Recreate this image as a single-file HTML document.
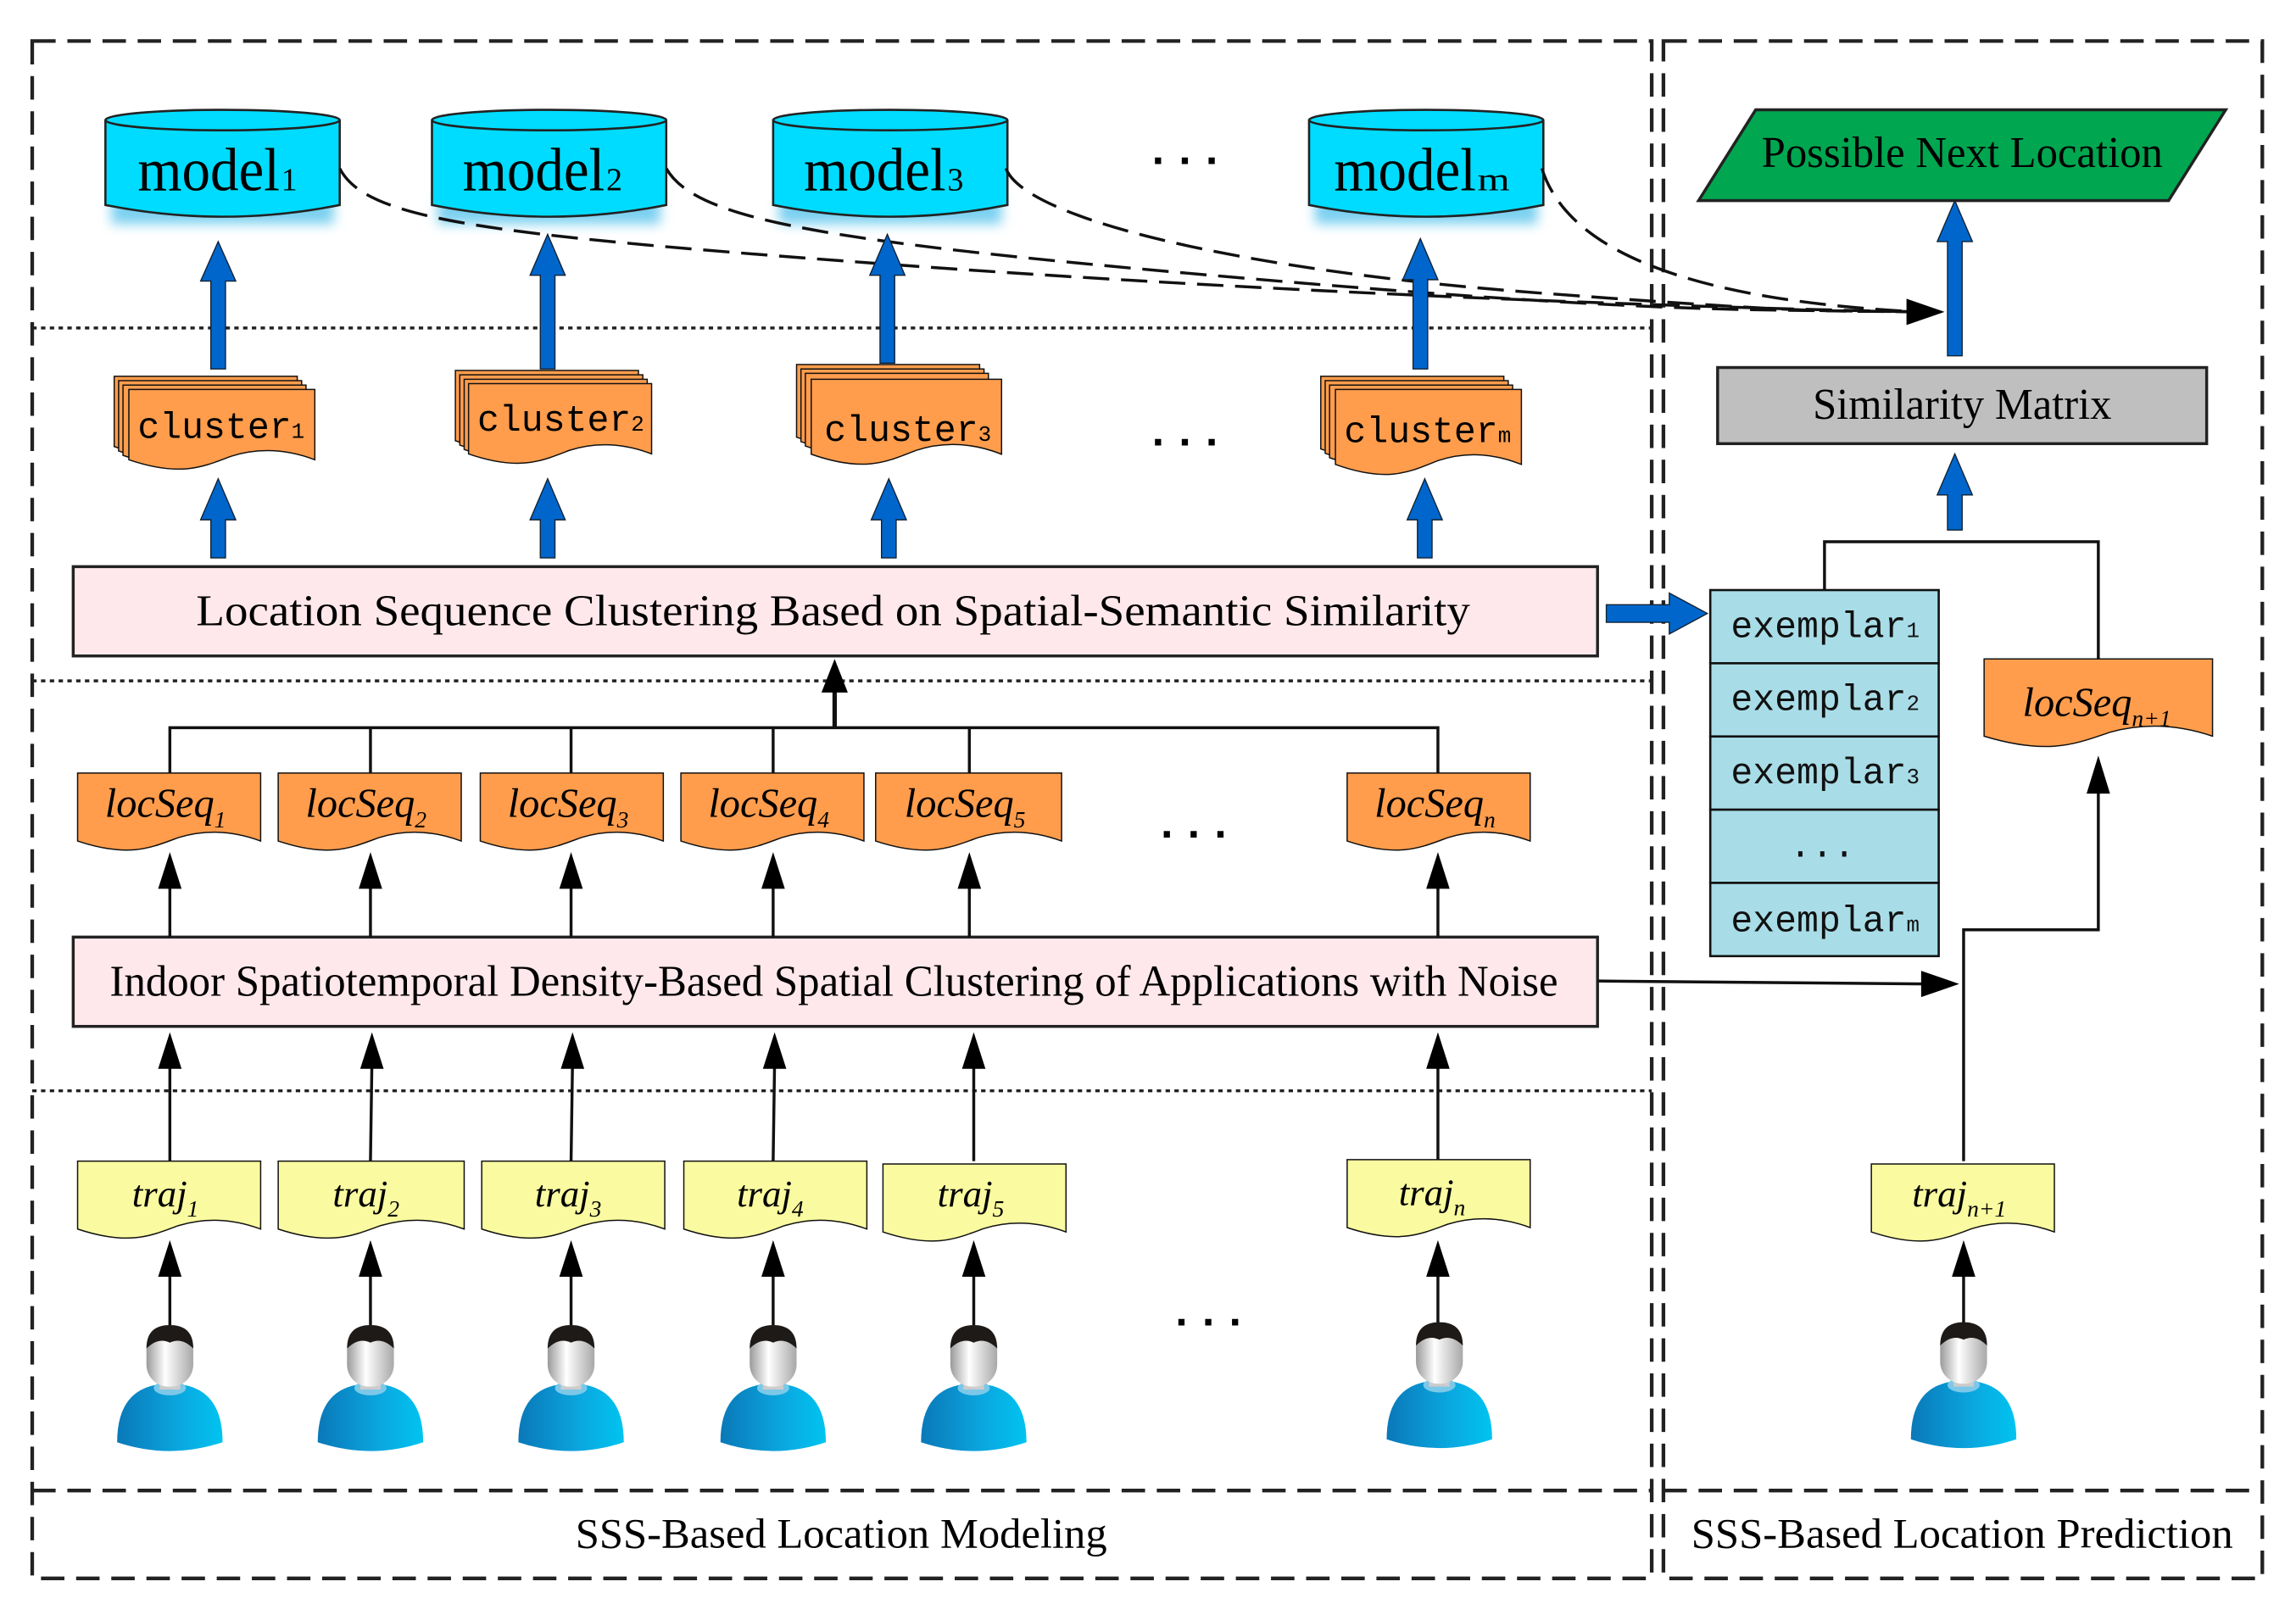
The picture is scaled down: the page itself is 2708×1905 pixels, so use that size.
<!DOCTYPE html>
<html><head><meta charset="utf-8"><style>
html,body{margin:0;padding:0;background:#fff;}
svg{display:block;}
.ser{font-family:"Liberation Serif",serif;}
.mono{font-family:"Liberation Mono",monospace;}
</style></head><body>
<svg width="2708" height="1905" viewBox="0 0 1568 1103" preserveAspectRatio="none" xmlns="http://www.w3.org/2000/svg">
<defs>
<symbol id="doc" viewBox="0 0 100 100" preserveAspectRatio="none" overflow="visible">
<path d="M0,0 H100 V80 C85,68 70,66 55,76 C40,88 28,100 0,80 Z" vector-effect="non-scaling-stroke"/>
</symbol>
<linearGradient id="face" x1="0" x2="1"><stop offset="0" stop-color="#9a9a9a"/><stop offset="0.4" stop-color="#fff"/><stop offset="1" stop-color="#a8a8a8"/></linearGradient>
<linearGradient id="body" x1="0" x2="1"><stop offset="0" stop-color="#0a78b8"/><stop offset="0.6" stop-color="#0aa8e0"/><stop offset="1" stop-color="#00c4f0"/></linearGradient>
<symbol id="person" viewBox="-40 0 80 90" overflow="visible">
<path d="M-36,80 Q-36,40 0,40 Q36,40 36,80 Q0,92 -36,80 Z" fill="url(#body)"/>
<ellipse cx="0" cy="43" rx="11" ry="5" fill="#7cc8e8"/>
<rect x="-7" y="30" width="14" height="14" fill="#ccc"/>
<rect x="-16" y="2" width="32" height="40" rx="15" fill="url(#face)"/>
<path d="M-16,16 Q-16,0 0,0 Q16,0 16,16 Q8,8 0,12 Q-8,8 -16,16 Z" fill="#1e1a18"/>
</symbol>
<filter id="glow" x="-20%" y="-20%" width="140%" height="160%"><feGaussianBlur stdDeviation="4"/></filter>
</defs>

<g fill="none" stroke="#222" stroke-width="2.5" stroke-dasharray="16 8">
<rect x="22" y="28" width="1106" height="1050"/>
<line x1="22" y1="1018" x2="1128" y2="1018"/>
<rect x="1136" y="28" width="409" height="1050"/>
<line x1="1136" y1="1018" x2="1545" y2="1018"/>
</g>
<g stroke="#222" stroke-width="2" stroke-dasharray="3 3">
<line x1="22" y1="224" x2="1128" y2="224"/>
<line x1="22" y1="465" x2="1128" y2="465"/>
<line x1="22" y1="745" x2="1128" y2="745"/>
</g>

<g>
<g transform="translate(72,0)"><rect x="4" y="135" width="152" height="18" fill="#7ad0f0" filter="url(#glow)"/><path d="M0,82 V140 Q80,156 160,140 V82" fill="#00dcff" stroke="#222" stroke-width="1.5"/><ellipse cx="80" cy="82" rx="80" ry="7" fill="#00dcff" stroke="#222" stroke-width="1.5"/></g>
<g transform="translate(295,0)"><rect x="4" y="135" width="152" height="18" fill="#7ad0f0" filter="url(#glow)"/><path d="M0,82 V140 Q80,156 160,140 V82" fill="#00dcff" stroke="#222" stroke-width="1.5"/><ellipse cx="80" cy="82" rx="80" ry="7" fill="#00dcff" stroke="#222" stroke-width="1.5"/></g>
<g transform="translate(528,0)"><rect x="4" y="135" width="152" height="18" fill="#7ad0f0" filter="url(#glow)"/><path d="M0,82 V140 Q80,156 160,140 V82" fill="#00dcff" stroke="#222" stroke-width="1.5"/><ellipse cx="80" cy="82" rx="80" ry="7" fill="#00dcff" stroke="#222" stroke-width="1.5"/></g>
<g transform="translate(894,0)"><rect x="4" y="135" width="152" height="18" fill="#7ad0f0" filter="url(#glow)"/><path d="M0,82 V140 Q80,156 160,140 V82" fill="#00dcff" stroke="#222" stroke-width="1.5"/><ellipse cx="80" cy="82" rx="80" ry="7" fill="#00dcff" stroke="#222" stroke-width="1.5"/></g>
</g>
<g class="ser" font-size="42" fill="#000">
<text x="94" y="130" textLength="97" lengthAdjust="spacingAndGlyphs">model</text><text x="192" y="130" font-size="22">1</text>
<text x="316" y="130" textLength="97" lengthAdjust="spacingAndGlyphs">model</text><text x="414" y="130" font-size="22">2</text>
<text x="549" y="130" textLength="97" lengthAdjust="spacingAndGlyphs">model</text><text x="647" y="130" font-size="22">3</text>
<text x="911" y="130" textLength="97" lengthAdjust="spacingAndGlyphs">model</text><text x="1009" y="130" font-size="22" textLength="22" lengthAdjust="spacingAndGlyphs">m</text>
</g>
<g font-family="Liberation Sans,sans-serif" font-size="30" font-weight="bold" text-anchor="middle">
<text x="810" y="120">· · ·</text><text x="810" y="312">· · ·</text><text x="816" y="580">· · ·</text><text x="826" y="913">· · ·</text>
</g>

<g fill="none" stroke="#111" stroke-width="2" stroke-dasharray="18 8">
<path d="M232,115 C250,150 330,160 600,180 S1150,210 1310,213"/>
<path d="M455,115 C475,150 560,165 850,190 S1200,211 1310,213"/>
<path d="M687,115 C700,150 850,185 1050,200 S1250,212 1310,213"/>
<path d="M1053,115 C1070,170 1150,205 1310,213"/>
</g>
<path d="M1302,204 L1328,213 L1302,222 Z" fill="#000"/>

<g fill="#0066cc" stroke="#123" stroke-width="0.8">
<path d="M144,252 V192 H137 L149,165 L161,192 H154 V252 Z"/>
<path d="M369,252 V188 H362 L374,160 L386,188 H379 V252 Z"/>
<path d="M601,248 V188 H594 L606,160 L618,188 H611 V248 Z"/>
<path d="M965,252 V191 H958 L970,163 L982,191 H975 V252 Z"/>
<path d="M144,381 V355 H137 L149,327 L161,355 H154 V381 Z"/>
<path d="M369,381 V355 H362 L374,327 L386,355 H379 V381 Z"/>
<path d="M602,381 V355 H595 L607,327 L619,355 H612 V381 Z"/>
<path d="M968,381 V355 H961 L973,327 L985,355 H978 V381 Z"/>
<path d="M1330,243 V165 H1323 L1335,137 L1347,165 H1340 V243 Z"/>
<path d="M1330,362 V338 H1323 L1335,310 L1347,338 H1340 V362 Z"/>
<path d="M1097,413 H1140 V405 L1166,419 L1140,433 V425 H1097 Z"/>
</g>

<g fill="#ff9d4d" stroke="#111" stroke-width="1.5">
<use href="#doc" x="78" y="257" width="125" height="60"/><use href="#doc" x="81" y="260" width="125" height="60"/><use href="#doc" x="84" y="263" width="125" height="60"/><use href="#doc" x="88" y="266" width="127" height="60"/>
<use href="#doc" x="311" y="253" width="125" height="60"/><use href="#doc" x="314" y="256" width="125" height="60"/><use href="#doc" x="317" y="259" width="125" height="60"/><use href="#doc" x="320" y="262" width="125" height="60"/>
<use href="#doc" x="544" y="249" width="125" height="62"/><use href="#doc" x="547" y="252" width="125" height="62"/><use href="#doc" x="550" y="255" width="125" height="62"/><use href="#doc" x="554" y="259" width="130" height="64"/>
<use href="#doc" x="902" y="257" width="125" height="62"/><use href="#doc" x="905" y="260" width="125" height="62"/><use href="#doc" x="908" y="263" width="125" height="62"/><use href="#doc" x="912" y="266" width="127" height="64"/>
</g>
<g class="mono" font-size="25" fill="#000">
<text x="94" y="299">cluster<tspan font-size="15">1</tspan></text>
<text x="326" y="294">cluster<tspan font-size="15">2</tspan></text>
<text x="563" y="301">cluster<tspan font-size="15">3</tspan></text>
<text x="918" y="302">cluster<tspan font-size="15">m</tspan></text>
</g>

<rect x="50" y="387" width="1041" height="61" fill="#ffe8ec" stroke="#222" stroke-width="2"/>
<text class="ser" x="134" y="427" font-size="30" textLength="870" lengthAdjust="spacingAndGlyphs">Location Sequence Clustering Based on Spatial-Semantic Similarity</text>
<rect x="50" y="640" width="1041" height="61" fill="#ffe8ec" stroke="#222" stroke-width="2"/>
<text class="ser" x="75" y="680" font-size="30" textLength="989" lengthAdjust="spacingAndGlyphs">Indoor Spatiotemporal Density-Based Spatial Clustering of Applications with Noise</text>

<g fill="none" stroke="#111" stroke-width="2">
<path d="M116,528 V497 H982 V528 M253,497 V528 M390,497 V528 M528,497 V528 M662,497 V528"/>
<line x1="570" y1="497" x2="570" y2="470" stroke-width="3"/>
<line x1="116" y1="640" x2="116" y2="600"/><line x1="253" y1="640" x2="253" y2="600"/><line x1="390" y1="640" x2="390" y2="600"/><line x1="528" y1="640" x2="528" y2="600"/><line x1="662" y1="640" x2="662" y2="600"/><line x1="982" y1="640" x2="982" y2="600"/>
<line x1="116" y1="793" x2="116" y2="725"/><line x1="253" y1="793" x2="254" y2="725"/><line x1="390" y1="793" x2="391" y2="725"/><line x1="528" y1="793" x2="529" y2="725"/><line x1="665" y1="793" x2="665" y2="725"/><line x1="982" y1="793" x2="982" y2="725"/>
<line x1="116" y1="905" x2="116" y2="868"/><line x1="253" y1="905" x2="253" y2="868"/><line x1="390" y1="905" x2="390" y2="868"/><line x1="528" y1="905" x2="528" y2="868"/><line x1="665" y1="905" x2="665" y2="868"/><line x1="982" y1="905" x2="982" y2="868"/><line x1="1341" y1="905" x2="1341" y2="868"/>
<path d="M1246,403 V370 H1433 V450"/>
<path d="M1341,793 V635 H1433 V540"/>
<line x1="1091" y1="670" x2="1315" y2="672"/>
</g>
<g fill="#000">
<path d="M561,473 L570,450 L579,473 Z"/>
<path d="M108,607 L116,582 L124,607 Z"/><path d="M245,607 L253,582 L261,607 Z"/><path d="M382,607 L390,582 L398,607 Z"/><path d="M520,607 L528,582 L536,607 Z"/><path d="M654,607 L662,582 L670,607 Z"/><path d="M974,607 L982,582 L990,607 Z"/>
<path d="M108,730 L116,705 L124,730 Z"/><path d="M246,730 L254,705 L262,730 Z"/><path d="M383,730 L391,705 L399,730 Z"/><path d="M521,730 L529,705 L537,730 Z"/><path d="M657,730 L665,705 L673,730 Z"/><path d="M974,730 L982,705 L990,730 Z"/>
<path d="M108,872 L116,847 L124,872 Z"/><path d="M245,872 L253,847 L261,872 Z"/><path d="M382,872 L390,847 L398,872 Z"/><path d="M520,872 L528,847 L536,872 Z"/><path d="M657,872 L665,847 L673,872 Z"/><path d="M974,872 L982,847 L990,872 Z"/><path d="M1333,872 L1341,847 L1349,872 Z"/>
<path d="M1425,542 L1433,516 L1441,542 Z"/>
<path d="M1312,663 L1338,672 L1312,681 Z"/>
</g>

<g fill="#ff9d4d" stroke="#111" stroke-width="1.5">
<use href="#doc" x="53" y="528" width="125" height="58"/><use href="#doc" x="190" y="528" width="125" height="58"/><use href="#doc" x="328" y="528" width="125" height="58"/><use href="#doc" x="465" y="528" width="125" height="58"/><use href="#doc" x="598" y="528" width="127" height="58"/><use href="#doc" x="920" y="528" width="125" height="58"/>
<use href="#doc" x="1355" y="450" width="156" height="66"/>
</g>
<g class="ser" font-size="28" font-style="italic" fill="#000" text-anchor="middle">
<text x="113" y="558">locSeq<tspan font-size="16" dy="7">1</tspan></text>
<text x="250" y="558">locSeq<tspan font-size="16" dy="7">2</tspan></text>
<text x="388" y="558">locSeq<tspan font-size="16" dy="7">3</tspan></text>
<text x="525" y="558">locSeq<tspan font-size="16" dy="7">4</tspan></text>
<text x="659" y="558">locSeq<tspan font-size="16" dy="7">5</tspan></text>
<text x="980" y="558">locSeq<tspan font-size="16" dy="7">n</tspan></text>
<text x="1432" y="489">locSeq<tspan font-size="16" dy="7">n+1</tspan></text>
</g>

<g fill="#fafaa0" stroke="#111" stroke-width="1.5">
<use href="#doc" x="53" y="793" width="125" height="58"/><use href="#doc" x="190" y="793" width="127" height="58"/><use href="#doc" x="329" y="793" width="125" height="58"/><use href="#doc" x="467" y="793" width="125" height="58"/><use href="#doc" x="603" y="795" width="125" height="58"/><use href="#doc" x="920" y="792" width="125" height="58"/><use href="#doc" x="1278" y="795" width="125" height="58"/>
</g>
<g class="ser" font-size="26" font-style="italic" fill="#000" text-anchor="middle">
<text x="113" y="824">traj<tspan font-size="16" dy="7">1</tspan></text>
<text x="250" y="824">traj<tspan font-size="16" dy="7">2</tspan></text>
<text x="388" y="824">traj<tspan font-size="16" dy="7">3</tspan></text>
<text x="526" y="824">traj<tspan font-size="16" dy="7">4</tspan></text>
<text x="663" y="824">traj<tspan font-size="16" dy="7">5</tspan></text>
<text x="978" y="823">traj<tspan font-size="16" dy="7">n</tspan></text>
<text x="1338" y="824">traj<tspan font-size="16" dy="7">n+1</tspan></text>
</g>

<use href="#person" x="76" y="905" width="80" height="90"/>
<use href="#person" x="213" y="905" width="80" height="90"/>
<use href="#person" x="350" y="905" width="80" height="90"/>
<use href="#person" x="488" y="905" width="80" height="90"/>
<use href="#person" x="625" y="905" width="80" height="90"/>
<use href="#person" x="943" y="903" width="80" height="90"/>
<use href="#person" x="1301" y="903" width="80" height="90"/>

<path d="M1160,137 L1199,75 L1520,75 L1481,137 Z" fill="#00a650" stroke="#222" stroke-width="2"/>
<text class="ser" x="1203" y="114" font-size="30" textLength="274" lengthAdjust="spacingAndGlyphs">Possible Next Location</text>
<rect x="1173" y="251" width="334" height="52" fill="#bfbfbf" stroke="#222" stroke-width="2"/>
<text class="ser" x="1238" y="286" font-size="30" textLength="204" lengthAdjust="spacingAndGlyphs">Similarity Matrix</text>
<g fill="#a8dde8" stroke="#111" stroke-width="1.5">
<rect x="1168" y="403" width="156" height="50"/><rect x="1168" y="453" width="156" height="50"/><rect x="1168" y="503" width="156" height="50"/><rect x="1168" y="553" width="156" height="50"/><rect x="1168" y="603" width="156" height="50"/>
</g>
<g class="mono" font-size="25" fill="#111">
<text x="1182" y="435">exemplar<tspan font-size="15">1</tspan></text>
<text x="1182" y="485">exemplar<tspan font-size="15">2</tspan></text>
<text x="1182" y="535">exemplar<tspan font-size="15">3</tspan></text>
<text x="1222" y="585">...</text>
<text x="1182" y="636">exemplar<tspan font-size="15">m</tspan></text>
</g>

<g class="ser" font-size="29" fill="#000">
<text x="393" y="1057" textLength="363" lengthAdjust="spacingAndGlyphs">SSS-Based Location Modeling</text>
<text x="1155" y="1057" textLength="370" lengthAdjust="spacingAndGlyphs">SSS-Based Location Prediction</text>
</g>
</svg>
</body></html>
